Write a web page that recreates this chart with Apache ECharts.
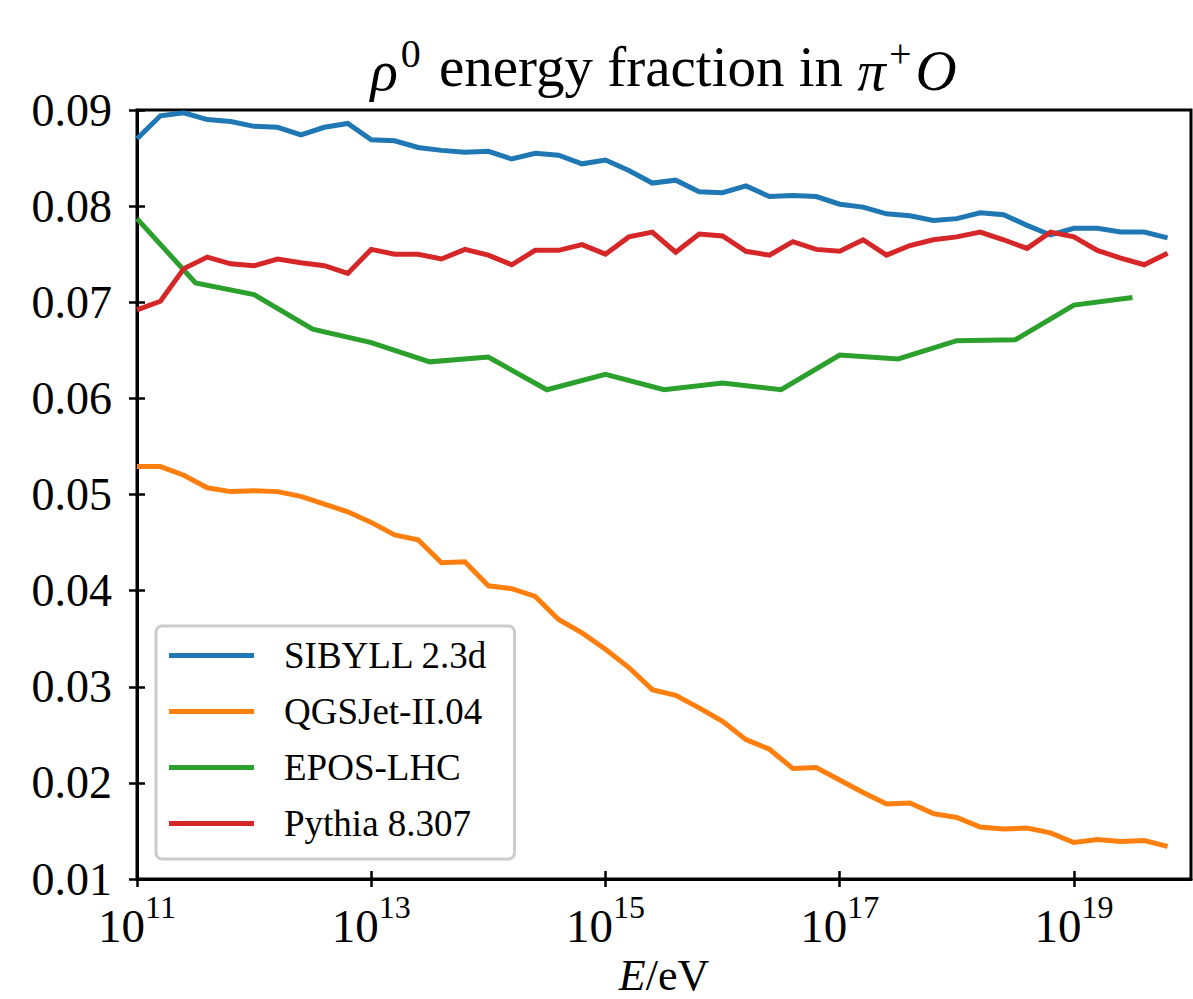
<!DOCTYPE html>
<html>
<head>
<meta charset="utf-8">
<script src="https://cdn.jsdelivr.net/npm/echarts@6/dist/echarts.min.js"></script>
<style>
html,body{margin:0;padding:0;background:#fff;}
#chart{width:1193px;height:999px;}
</style>
</head>
<body>
<div id="chart"></div>
<script>
// log10(E/eV) grid of the simulations
const energyExp = [11.0, 11.2, 11.4, 11.6, 11.8, 12.0, 12.2, 12.4, 12.6, 12.8,
                   13.0, 13.2, 13.4, 13.6, 13.8, 14.0, 14.2, 14.4, 14.6, 14.8,
                   15.0, 15.2, 15.4, 15.6, 15.8, 16.0, 16.2, 16.4, 16.6, 16.8,
                   17.0, 17.2, 17.4, 17.6, 17.8, 18.0, 18.2, 18.4, 18.6, 18.8,
                   19.0, 19.2, 19.4, 19.6, 19.8];
const eposExp = [11.0, 11.5, 12.0, 12.5, 13.0, 13.5, 14.0, 14.5, 15.0, 15.5,
                 16.0, 16.5, 17.0, 17.5, 18.0, 18.5, 19.0, 19.5];

const sibyll = [0.0870, 0.0894, 0.0897, 0.0890, 0.0888, 0.0883, 0.0882, 0.0874, 0.0882, 0.0886,
                0.0869, 0.0868, 0.0861, 0.0858, 0.0856, 0.0857, 0.0849, 0.0855, 0.0853, 0.0844,
                0.0848, 0.0837, 0.0824, 0.0827, 0.0815, 0.0814, 0.0821, 0.0810, 0.0811, 0.0810,
                0.0802, 0.0799, 0.0792, 0.0790, 0.0785, 0.0787, 0.0793, 0.0791, 0.0780, 0.0770,
                0.0777, 0.0777, 0.0773, 0.0773, 0.0767];
const qgsjet = [0.0529, 0.0529, 0.0520, 0.0507, 0.0503, 0.0504, 0.0503, 0.0498, 0.0490, 0.0482,
                0.0471, 0.0458, 0.0453, 0.0429, 0.0430, 0.0405, 0.0402, 0.0394, 0.0370, 0.0356,
                0.0339, 0.0320, 0.0297, 0.0291, 0.0278, 0.0264, 0.0245, 0.0235, 0.0215, 0.0216,
                0.0203, 0.0190, 0.0178, 0.0179, 0.0168, 0.0164, 0.0154, 0.0152, 0.0153, 0.0148,
                0.0138, 0.0141, 0.0139, 0.0140, 0.0134];
const epos = [0.0787, 0.0720, 0.0708, 0.0672, 0.0658, 0.0638, 0.0643, 0.0609, 0.0625, 0.0609,
              0.0616, 0.0609, 0.0645, 0.0641, 0.0660, 0.0661, 0.0697, 0.0705];
const pythia = [0.0692, 0.0701, 0.0735, 0.0747, 0.0740, 0.0738, 0.0745, 0.0741, 0.0738, 0.0730,
                0.0755, 0.0750, 0.0750, 0.0745, 0.0755, 0.0749, 0.0739, 0.0754, 0.0754, 0.0760,
                0.0750, 0.0768, 0.0773, 0.0752, 0.0771, 0.0769, 0.0753, 0.0749, 0.0763, 0.0755,
                0.0753, 0.0765, 0.0749, 0.0759, 0.0765, 0.0768, 0.0773, 0.0765, 0.0756, 0.0773,
                0.0768, 0.0754, 0.0746, 0.0739, 0.0751];

const seriesNames = ['SIBYLL 2.3d', 'QGSJet-II.04', 'EPOS-LHC', 'Pythia 8.307'];
const seriesColors = ['#1f77b4', '#ff7f0e', '#2ca02c', '#d62728'];
const xTickExps = [11, 13, 15, 17, 19];
const yTicks = [0.01, 0.02, 0.03, 0.04, 0.05, 0.06, 0.07, 0.08, 0.09];

const FONT = '"Liberation Serif", "Times New Roman", serif';
const pairs = (xs, ys) => xs.map((e, i) => [Math.pow(10, e), ys[i]]);
const xTickVals = xTickExps.map(e => Math.pow(10, e));

const chart = echarts.init(document.getElementById('chart'), null, {renderer: 'svg'});

const xBase = {
  type: 'log', logBase: 10, min: 1e11, max: 1e20, gridIndex: 0, position: 'bottom',
  splitLine: {show: false}, minorTick: {show: false}
};
const yBase = {
  type: 'value', min: 0.01, max: 0.09, interval: 0.01, gridIndex: 0, position: 'left',
  splitLine: {show: false}
};

const option = {
  backgroundColor: '#ffffff',
  animation: false,
  graphic: [{
    type: 'text', x: 663.5, y: 66,
    style: {
      text: '{it|ρ}{sup|0} energy fraction in {it|π}{sup|+}{it|O}',
      align: 'center', verticalAlign: 'middle',
      fontFamily: FONT, fontSize: 57, fill: '#000',
      rich: {
        it: {fontFamily: FONT, fontSize: 57, fontStyle: 'italic', lineHeight: 66, verticalAlign: 'bottom'},
        sup: {fontFamily: FONT, fontSize: 40, lineHeight: 40, verticalAlign: 'top', padding: [0, 4, 0, 3]}
      }
    }
  }],
  grid: {
    left: 137, right: 2, top: 110, bottom: 120,
    outerBoundsMode: 'none', containLabel: false,
    show: true, borderColor: '#000', borderWidth: 3, backgroundColor: 'transparent'
  },
  legend: {
    orient: 'vertical', left: 156, top: 626,
    data: seriesNames,
    icon: 'rect', itemWidth: 85, itemHeight: 5, itemGap: 19,
    padding: [11, 27, 17, 13],
    backgroundColor: 'rgba(255,255,255,0.8)',
    borderColor: '#cccccc', borderWidth: 3, borderRadius: 6,
    textStyle: {fontFamily: FONT, fontSize: 37, color: '#000', padding: [0, 0, 0, 25]}
  },
  xAxis: [
    Object.assign({}, xBase, {
      name: '{it|E}/eV', nameLocation: 'middle', nameGap: 64,
      nameTextStyle: {
        fontFamily: FONT, fontSize: 44, color: '#000', lineHeight: 44,
        rich: {it: {fontFamily: FONT, fontSize: 44, lineHeight: 44, fontStyle: 'italic'}}
      },
      axisLine: {show: true, lineStyle: {color: '#000', width: 3}},
      axisTick: {show: true, inside: false, length: 8, lineStyle: {color: '#000', width: 2.5}, customValues: xTickVals},
      axisLabel: {
        show: true, margin: 12, customValues: xTickVals, color: '#000',
        formatter: v => '{b|10}{s|' + Math.round(Math.log10(v)) + '}',
        rich: {
          b: {fontFamily: FONT, fontSize: 47, lineHeight: 58, verticalAlign: 'bottom', color: '#000'},
          s: {fontFamily: FONT, fontSize: 32, lineHeight: 32, verticalAlign: 'top', color: '#000'}
        }
      }
    }),
    Object.assign({}, xBase, {
      axisLine: {show: false},
      axisTick: {show: true, inside: true, length: 8, lineStyle: {color: '#000', width: 2.5}, customValues: xTickVals},
      axisLabel: {show: false}
    })
  ],
  yAxis: [
    Object.assign({}, yBase, {
      axisLine: {show: true, lineStyle: {color: '#000', width: 3}},
      axisTick: {show: true, inside: false, length: 8, lineStyle: {color: '#000', width: 2.5}},
      axisLabel: {
        show: true, margin: 25, color: '#000', fontFamily: FONT, fontSize: 46,
        customValues: yTicks,
        formatter: v => v.toFixed(2)
      }
    }),
    Object.assign({}, yBase, {
      axisLine: {show: false},
      axisTick: {show: true, inside: true, length: 8, lineStyle: {color: '#000', width: 2.5}},
      axisLabel: {show: false}
    })
  ],
  series: [
    {name: seriesNames[0], data: pairs(energyExp, sibyll)},
    {name: seriesNames[1], data: pairs(energyExp, qgsjet)},
    {name: seriesNames[2], data: pairs(eposExp, epos)},
    {name: seriesNames[3], data: pairs(energyExp, pythia)}
  ].map((s, i) => Object.assign({
    type: 'line', xAxisIndex: 0, yAxisIndex: 0,
    showSymbol: false, symbol: 'none', smooth: false,
    color: seriesColors[i],
    lineStyle: {color: seriesColors[i], width: 5, cap: 'butt', join: 'miter'},
    emphasis: {disabled: true}
  }, s))
};
chart.setOption(option);
</script>
</body>
</html>
